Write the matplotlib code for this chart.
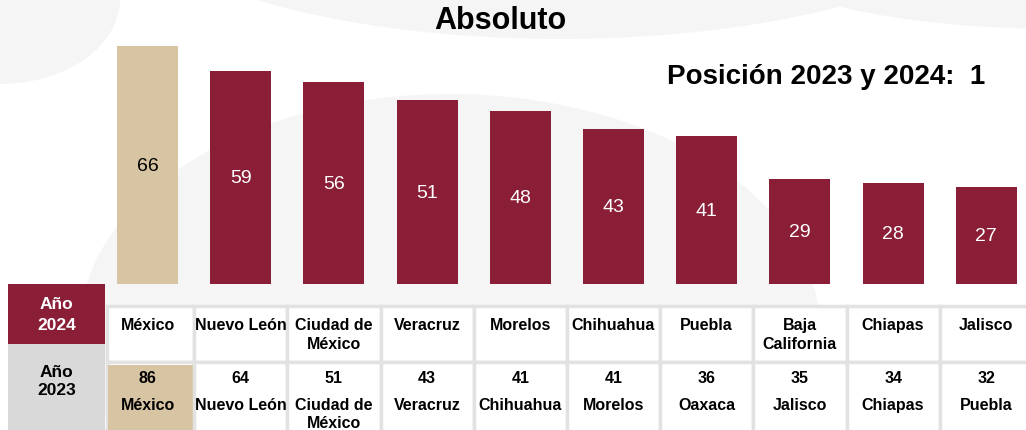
import matplotlib.pyplot as plt
from matplotlib.patches import Rectangle, Ellipse

plt.rcParams['font.family'] = ['Liberation Sans', 'DejaVu Sans']

# ── Data ── #
estados_2024 = ["México", "Nuevo León", "Ciudad de\nMéxico", "Veracruz", "Morelos",
                "Chihuahua", "Puebla", "Baja\nCalifornia", "Chiapas", "Jalisco"]
valores_2024 = [66, 59, 56, 51, 48, 43, 41, 29, 28, 27]
estados_2023 = ["México", "Nuevo León", "Ciudad de\nMéxico", "Veracruz", "Chihuahua",
                "Morelos", "Oaxaca", "Jalisco", "Chiapas", "Puebla"]
valores_2023 = [86, 64, 51, 43, 41, 41, 36, 35, 34, 32]
destacado = "México"

GUINDA = "#8A1E36"
ARENA = "#D7C4A3"
GRIS = "#D9D9D9"
BORDE = "#E2E2E2"
MARCA = "#F5F5F5"

W, H = 1026, 431
fig = plt.figure(figsize=(W / 100, H / 100), dpi=100)

# ── Background watermark (faint) ── #
bg = fig.add_axes([0, 0, 1, 1])
bg.set_xlim(0, W)
bg.set_ylim(H, 0)
bg.axis('off')
for (cx, cy), w, h in [((0, 0), 240, 170),
                       ((450, 330), 740, 470),
                       ((560, -110), 900, 300),
                       ((1060, -40), 600, 140)]:
    bg.add_patch(Ellipse((cx, cy), w, h, facecolor=MARCA, edgecolor='none'))

# ── Bars ── #
px_step = 93.2
x0_px = 147.5
base_px = 285
px_per_unit = 3.606
xmin, xmax = -0.5, 9.4
ymax = 70
ax = fig.add_axes([(x0_px + xmin * px_step) / W, (H - base_px) / H,
                   (xmax - xmin) * px_step / W, ymax * px_per_unit / H])
ax.set_xlim(xmin, xmax)
ax.set_ylim(0, ymax)
ax.axis('off')
ax.patch.set_alpha(0)

xs = list(range(len(valores_2024)))
colores = [ARENA if e == destacado else GUINDA for e in estados_2024]
ax.bar(xs, valores_2024, width=0.655, color=colores, edgecolor='none')
for x, v, c in zip(xs, valores_2024, colores):
    ax.text(x, v / 2, str(v), ha='center', va='center', fontsize=14,
            color='black' if c == ARENA else 'white')

fig.text(500 / W, 1 - 21 / H, "Absoluto", ha='center', va='center',
         fontsize=22, fontweight='bold')
fig.text(985 / W, 1 - 77 / H, "Posición 2023 y 2024:  1", ha='right', va='center',
         fontsize=20, fontweight='bold')

# ── Table ── #
tb = fig.add_axes([0, 0, 1, (H - 285) / H])
tb.set_xlim((0 - x0_px) / px_step, (W - x0_px) / px_step)
tb.set_ylim(431, 285)
tb.axis('off')
tb.patch.set_alpha(0)

# header cells
hx0, hx1 = (8 - x0_px) / px_step, (105 - x0_px) / px_step
tb.add_patch(Rectangle((hx0, 285), hx1 - hx0, 60, facecolor=GUINDA, edgecolor='none'))
tb.add_patch(Rectangle((hx0, 345), hx1 - hx0, 86, facecolor=GRIS, edgecolor='none'))
hxc = (hx0 + hx1) / 2
tb.text(hxc, 315, "Año\n2024", ha='center', va='center', fontsize=12.5,
        fontweight='bold', color='white', linespacing=1.45)
tb.text(hxc, 382, "Año\n2023", ha='center', va='center', fontsize=12.5,
        fontweight='bold', color='black', linespacing=1.25)

# grid cells
for i in xs:
    left = i - 0.5 if i > 0 else (107 - x0_px) / px_step
    tb.add_patch(Rectangle((left, 307), i + 0.5 - left, 56, facecolor='white',
                           edgecolor=BORDE, linewidth=2.5))
    tb.add_patch(Rectangle((left, 363), i + 0.5 - left, 70, facecolor='white',
                           edgecolor=BORDE, linewidth=2.5))
    if estados_2023[i] == destacado:
        tb.add_patch(Rectangle((left + 0.01, 366), i + 0.5 - left - 0.02, 66,
                               facecolor=ARENA, edgecolor='none'))

for i, (e24, e23, v23) in enumerate(zip(estados_2024, estados_2023, valores_2023)):
    tb.text(i, 318, e24, ha='center', va='top', fontsize=11.5, fontweight='bold',
            linespacing=1.3)
    tb.text(i, 379, str(v23), ha='center', va='center', fontsize=11.5, fontweight='bold')
    tb.text(i, 398.5, e23, ha='center', va='top', fontsize=11.5, fontweight='bold',
            linespacing=1.2)

fig.savefig("out.png", dpi=100)
